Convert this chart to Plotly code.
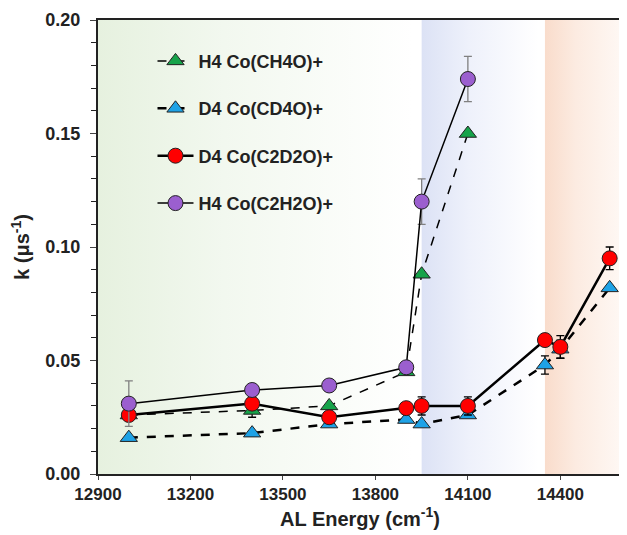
import plotly.graph_objects as go

# ---- data ----
x_h4_ch4o = [13000, 13400, 13650, 13900, 13950, 14100]
k_h4_ch4o = [0.026, 0.028, 0.030, 0.045, 0.088, 0.150]
e_h4_ch4o = [0.0, 0.003, 0.0, 0.0, 0.0, 0.0]

x_d4_cd4o = [13000, 13400, 13650, 13900, 13950, 14100, 14350, 14400, 14560]
k_d4_cd4o = [0.016, 0.018, 0.022, 0.024, 0.022, 0.026, 0.048, 0.055, 0.082]
e_d4_cd4o = [0.0, 0.0, 0.0, 0.0, 0.0, 0.0, 0.004, 0.004, 0.0]

x_d4_c2d2o = [13000, 13400, 13650, 13900, 13950, 14100, 14350, 14400, 14560]
k_d4_c2d2o = [0.026, 0.031, 0.025, 0.029, 0.030, 0.030, 0.059, 0.056, 0.095]
e_d4_c2d2o = [0.0, 0.0, 0.0, 0.0, 0.004, 0.004, 0.0, 0.005, 0.005]

x_h4_c2h2o = [13000, 13400, 13650, 13900, 13950, 14100]
k_h4_c2h2o = [0.031, 0.037, 0.039, 0.047, 0.120, 0.174]
e_h4_c2h2o = [0.010, 0.0, 0.0, 0.0, 0.010, 0.010]

# shaded energy regions
band_starts = [12900, 13950, 14350]
band_ends = [13920, 14330, 14600]
band_colors = ["#e6f1df", "#dce2f5", "#f9dccb"]
band_mid_colors = ["#f2f8ef", "#eef1fb", "#fcebe1"]
band_end_colors = ["#ffffff", "#ffffff", "#fef8f4"]

x_range = [12900, 14600]
y_range = [0, 0.20]
x_ticks = [12900, 13200, 13500, 13800, 14100, 14400]
y_ticks = [0.00, 0.05, 0.10, 0.15, 0.20]

FONT = "Liberation Sans, Arial, sans-serif"

fig = go.Figure()

for xs, xe, c0, cm, c1 in zip(band_starts, band_ends, band_colors, band_mid_colors, band_end_colors):
    fig.add_trace(go.Scatter(
        x=[xs, xe, xe, xs, xs], y=[y_range[0], y_range[0], y_range[1], y_range[1], y_range[0]],
        mode="lines", line=dict(width=0), fill="toself",
        fillgradient=dict(type="horizontal", colorscale=[[0, c0], [0.4, cm], [1, c1]]),
        hoverinfo="skip", showlegend=False))

def series(x, y, e, name, color, symbol, dash, lw, ecolor, rank):
    return go.Scatter(
        x=x, y=y, name=name, mode="lines+markers",
        line=dict(color="black", width=lw, dash=dash),
        marker=dict(color=color, symbol=symbol, size=15, line=dict(color="#222", width=1)),
        error_y=dict(type="data", array=e, visible=True, color=ecolor, thickness=1.3, width=4),
        legendgroup=name, legendrank=rank)

fig.add_trace(series(x_d4_cd4o, k_d4_cd4o, e_d4_cd4o, "D4 Co(CD4O)+", "#1ea2e6",
                     "triangle-up", "dash", 2.5, "black", 2))
fig.add_trace(series(x_h4_ch4o, k_h4_ch4o, e_h4_ch4o, "H4 Co(CH4O)+", "#16a34a",
                     "triangle-up", "dash", 1.5, "black", 1))
fig.add_trace(series(x_d4_c2d2o, k_d4_c2d2o, e_d4_c2d2o, "D4 Co(C2D2O)+", "#ff0000",
                     "circle", "solid", 2.5, "black", 3))
fig.add_trace(series(x_h4_c2h2o, k_h4_c2h2o, e_h4_c2h2o, "H4 Co(C2H2O)+", "#9b5fcf",
                     "circle", "solid", 1.5, "#808080", 4))

fig.update_layout(
    width=619, height=527,
    margin=dict(l=90, r=5, t=12, b=61, autoexpand=False),
    paper_bgcolor="white", plot_bgcolor="white",
    font=dict(family=FONT, size=15, color="#222", weight="bold"),
    showlegend=True,
    legend=dict(x=0.104, y=0.95, xanchor="left", yanchor="top",
                bgcolor="rgba(0,0,0,0)", traceorder="grouped", tracegroupgap=21,
                font=dict(family=FONT, size=18, color="#222", weight="bold"),
                itemwidth=36),
)
fig.update_xaxes(
    range=x_range, tickvals=x_ticks, tickformat="d", ticks="outside", ticklen=4, tickwidth=1,
    showline=True, linecolor="#222", linewidth=2, mirror=True, showgrid=False, zeroline=False,
    tickfont=dict(family=FONT, size=17, weight="bold"),
    title=dict(text="AL Energy (cm<sup>-1</sup>)", standoff=0,
               font=dict(family=FONT, size=20, weight="bold")),
)
fig.update_yaxes(
    range=y_range, tickvals=y_ticks, tickformat=".2f", ticks="outside", ticklen=6, tickwidth=1,
    ticklabelstandoff=6,
    minor=dict(dtick=0.01, ticks="outside", ticklen=5, tickcolor="#222"),
    showline=True, linecolor="#222", linewidth=2, mirror="ticks", showgrid=False, zeroline=False,
    tickfont=dict(family=FONT, size=18, weight="bold"),
    title=dict(text="k (μs<sup>-1</sup>)", standoff=10,
               font=dict(family=FONT, size=20, weight="bold")),
)

fig.write_html("out.html")
